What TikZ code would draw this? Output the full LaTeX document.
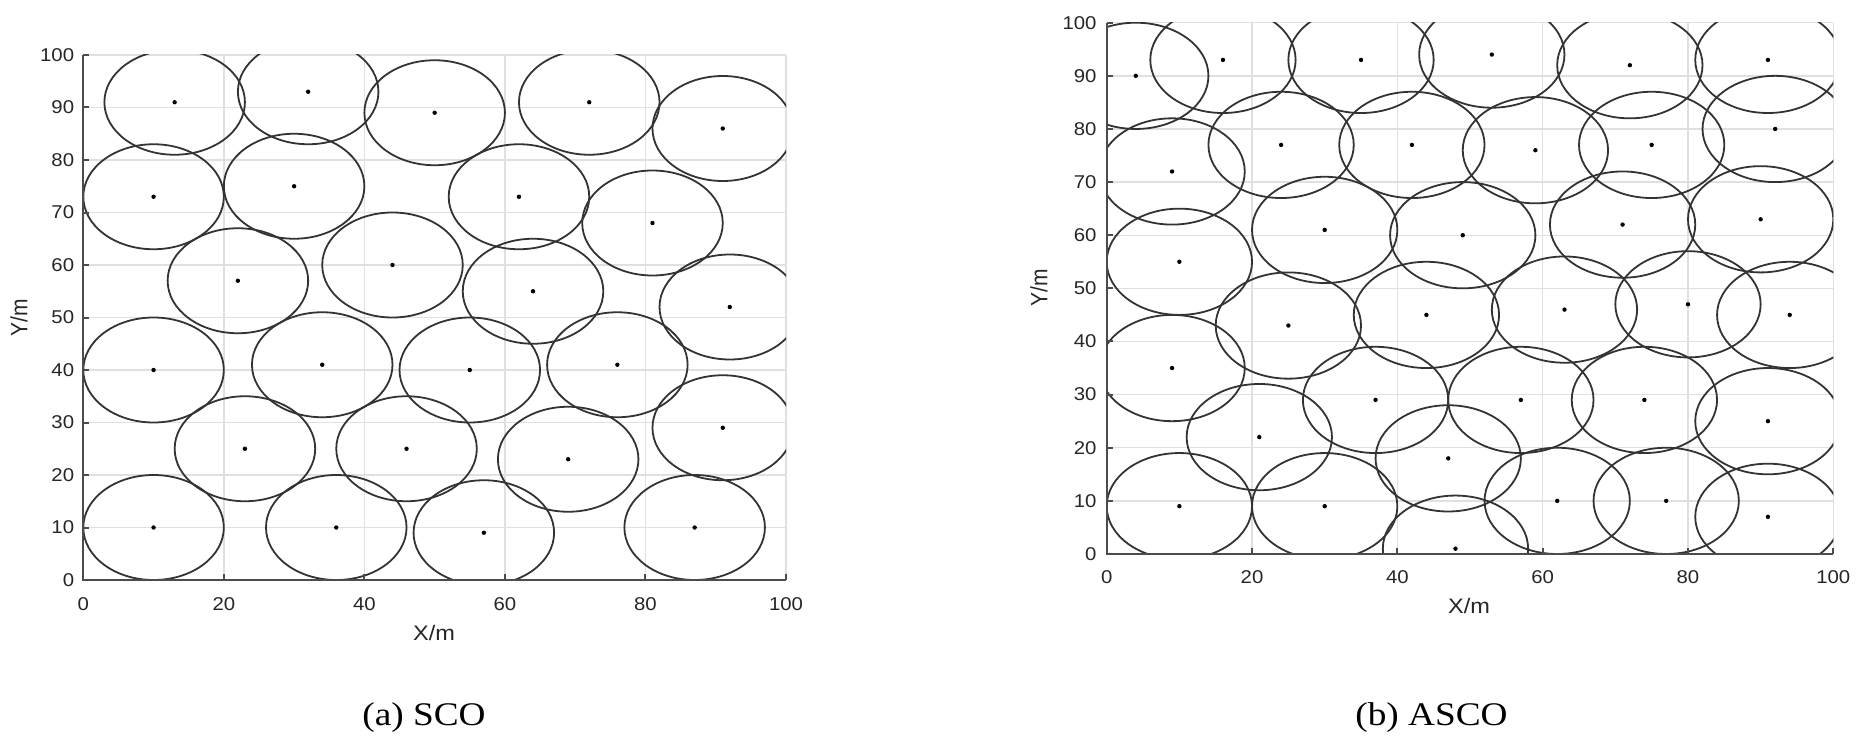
\documentclass[tikz,border=0pt]{standalone}
\usepackage{fontspec}
\setmainfont{Liberation Serif}
\setsansfont{Liberation Sans}
\usepackage{graphicx}
\tikzset{
  gridline/.style={draw=black!12, line width=1.4pt},
  axisline/.style={draw=black!70, line width=2pt},
  ringline/.style={draw=black!80, line width=1.8pt},
  ticklab/.style={font=\sffamily\fontsize{18.5}{20}\selectfont, inner sep=0pt, text=black!85},
  axlab/.style={font=\sffamily\fontsize{21}{24}\selectfont, inner sep=0pt, text=black!85},
  caplab/.style={font=\fontsize{33}{36}\selectfont, inner sep=0pt, anchor=base},
}
\begin{document}
\begin{tikzpicture}[x=1pt,y=-1pt]
\useasboundingbox[fill=white] (0,0) rectangle (1863,741);

% ---------- (a) SCO ----------
\begin{scope}[shift={(83.3,580)}, x=7.027pt, y=5.25pt]
  \foreach \gx in {20,40,...,100} \draw[gridline] (\gx,0) -- (\gx,100);
  \foreach \gy in {10,20,...,100} \draw[gridline] (0,\gy) -- (100,\gy);
  \begin{scope}
    \clip (0,0) rectangle (100,100);
    \foreach \cx/\cy in {13/91,32/93,50/89,72/91,91/86,
                         10/73,30/75,62/73,81/68,
                         22/57,44/60,64/55,92/52,
                         10/40,34/41,55/40,76/41,
                         23/25,46/25,69/23,91/29,
                         10/10,36/10,57/9,87/10}
      \draw[ringline] (\cx,\cy) circle[radius=10];
  \end{scope}
  \foreach \cx/\cy in {13/91,32/93,50/89,72/91,91/86,
                       10/73,30/75,62/73,81/68,
                       22/57,44/60,64/55,92/52,
                       10/40,34/41,55/40,76/41,
                       23/25,46/25,69/23,91/29,
                       10/10,36/10,57/9,87/10}
    \fill[black] (\cx,\cy) circle[radius=2.2pt];
  \draw[axisline] (0,100) -- (0,0) -- (100,0);
  \foreach \tx in {0,20,...,100} {
    \draw[axisline] (\tx,0) -- ++(0pt,6pt);
    \node[ticklab, anchor=north, yshift=-17pt] (ax\tx) at (\tx,0) {\scalebox{1.1}[1]{\tx}};
  }
  \foreach \ty in {0,10,...,100} {
    \draw[axisline] (0,\ty) -- ++(6pt,0pt);
    \node[ticklab, anchor=east, xshift=-9pt] (ay\ty) at (0,\ty) {\scalebox{1.1}[1]{\ty}};
  }
\end{scope}
\node[axlab] (axlabel) at (434,632.5) {\scalebox{1.12}[1]{X/m}};
\node[axlab, rotate=90] (aylabel) at (19,318) {\scalebox{1}[1.12]{Y/m}};
\node[caplab] (capa) at (424,725) {\scalebox{1.13}[1]{(a) SCO}};

% ---------- (b) ASCO ----------
\begin{scope}[shift={(1106.7,554)}, x=7.266pt, y=5.313pt]
  \foreach \gx in {20,40,...,100} \draw[gridline] (\gx,0) -- (\gx,100);
  \foreach \gy in {10,20,...,100} \draw[gridline] (0,\gy) -- (100,\gy);
  \begin{scope}
    \clip (0,0) rectangle (100,100);
    \foreach \cx/\cy in {4/90,16/93,35/93,53/94,72/92,91/93,
                         9/72,24/77,42/77,59/76,75/77,92/80,
                         10/55,30/61,49/60,71/62,90/63,
                         9/35,25/43,44/45,63/46,80/47,94/45,
                         21/22,37/29,57/29,74/29,91/25,47/18,
                         10/9,30/9,48/1,62/10,77/10,91/7}
      \draw[ringline] (\cx,\cy) circle[radius=10];
  \end{scope}
  \foreach \cx/\cy in {4/90,16/93,35/93,53/94,72/92,91/93,
                       9/72,24/77,42/77,59/76,75/77,92/80,
                       10/55,30/61,49/60,71/62,90/63,
                       9/35,25/43,44/45,63/46,80/47,94/45,
                       21/22,37/29,57/29,74/29,91/25,47/18,
                       10/9,30/9,48/1,62/10,77/10,91/7}
    \fill[black] (\cx,\cy) circle[radius=2.2pt];
  \draw[axisline] (0,100) -- (0,0) -- (100,0);
  \foreach \tx in {0,20,...,100} {
    \draw[axisline] (\tx,0) -- ++(0pt,6pt);
    \node[ticklab, anchor=north, yshift=-16pt] (bx\tx) at (\tx,0) {\scalebox{1.1}[1]{\tx}};
  }
  \foreach \ty in {0,10,...,100} {
    \draw[axisline] (0,\ty) -- ++(6pt,0pt);
    \node[ticklab, anchor=east, xshift=-10pt] (by\ty) at (0,\ty) {\scalebox{1.1}[1]{\ty}};
  }
\end{scope}
\node[axlab] (bxlabel) at (1469,606) {\scalebox{1.12}[1]{X/m}};
\node[axlab, rotate=90] (bylabel) at (1039,287.5) {\scalebox{1}[1.12]{Y/m}};
\node[caplab] (capb) at (1431.5,725) {\scalebox{1.13}[1]{(b) ASCO}};
\end{tikzpicture}
\end{document}
